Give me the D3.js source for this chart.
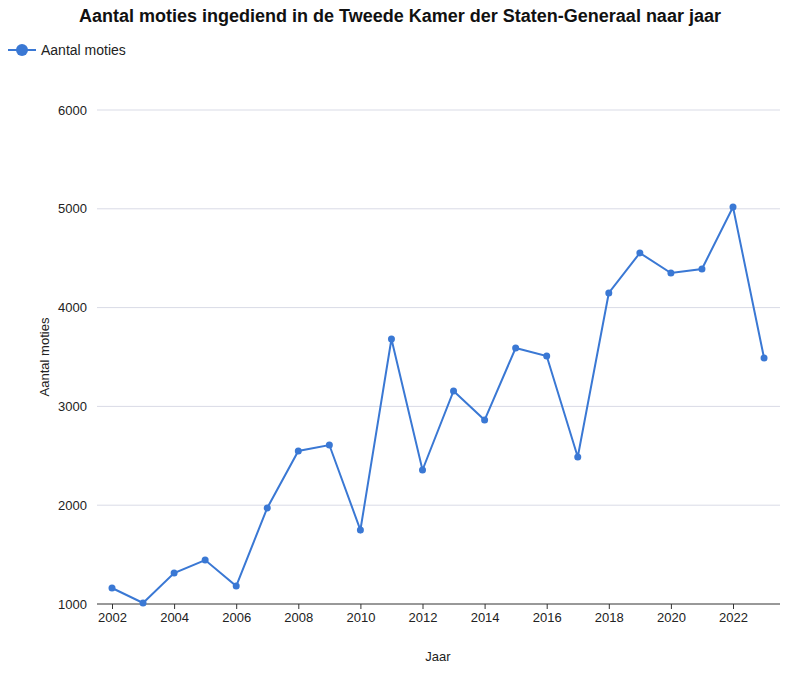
<!DOCTYPE html>
<html><head><meta charset="utf-8">
<script src="https://cdn.jsdelivr.net/npm/d3@7"></script>
<style>body{margin:0;background:#fff;font-family:"Liberation Sans",Arial,sans-serif;}</style>
</head><body><svg id="chart" width="800" height="673"></svg>
<script>
// Chart data
const years = [2002,2003,2004,2005,2006,2007,2008,2009,2010,2011,2012,2013,2014,2015,2016,2017,2018,2019,2020,2021,2022,2023];
const moties = [1162,1010,1314,1445,1182,1972,2549,2609,1749,3682,2356,3156,2862,3591,3510,2488,4148,4553,4350,4391,5018,3490];
const yTicks = [1000,2000,3000,4000,5000,6000];
const xTicks = [2002,2004,2006,2008,2010,2012,2014,2016,2018,2020,2022];

const color = "#3a78d4";
const svg = d3.select("#chart");

const x = d3.scaleLinear().domain([2002, 2022]).range([112, 733]);
const y = d3.scaleLinear().domain([1000, 6000]).range([604, 110]);

// Gridlines
svg.selectAll("line.grid")
  .data(yTicks)
  .enter()
  .append("line")
  .attr("x1", 97).attr("x2", 780)
  .attr("y1", (d) => y(d)).attr("y2", (d) => y(d))
  .attr("stroke", (d) => d === 1000 ? "#333" : "#d9dbe6")
  .attr("stroke-width", 1);

// Axes
const yAxis = svg.append("g").attr("transform", "translate(97,0)")
  .call(d3.axisLeft(y).tickValues(yTicks).tickFormat(d3.format("d")).tickSize(0).tickPadding(10));
yAxis.select(".domain").remove();
yAxis.selectAll("text").attr("font-size", 13).attr("fill", "#222").attr("font-family", "Liberation Sans, Arial");

const xAxis = svg.append("g").attr("transform", "translate(0,604)")
  .call(d3.axisBottom(x).tickValues(xTicks).tickFormat(d3.format("d")).tickSize(5).tickPadding(4));
xAxis.select(".domain").remove();
xAxis.selectAll("line").attr("stroke", "#333");
xAxis.selectAll("text").attr("font-size", 13).attr("fill", "#222").attr("font-family", "Liberation Sans, Arial");

// Line and points
const line = d3.line().x((d, i) => x(years[i])).y((d) => y(d));
svg.append("path")
  .datum(moties)
  .attr("d", line)
  .attr("fill", "none")
  .attr("stroke", color)
  .attr("stroke-width", 2);

svg.selectAll("circle.pt")
  .data(moties)
  .enter()
  .append("circle")
  .attr("cx", (d, i) => x(years[i]))
  .attr("cy", (d) => y(d))
  .attr("r", 3.5)
  .attr("fill", color);

// Titles
svg.append("text").attr("x", 400).attr("y", 22).attr("text-anchor", "middle")
  .attr("font-size", 18).attr("font-weight", "bold").attr("fill", "#111")
  .text("Aantal moties ingediend in de Tweede Kamer der Staten-Generaal naar jaar");

svg.append("text").attr("transform", "translate(49,357) rotate(-90)").attr("text-anchor", "middle")
  .attr("font-size", 13).attr("fill", "#222").text("Aantal moties");

svg.append("text").attr("x", 438).attr("y", 661).attr("text-anchor", "middle")
  .attr("font-size", 13).attr("fill", "#222").text("Jaar");

// Legend
svg.append("line").attr("x1", 8).attr("x2", 36).attr("y1", 50).attr("y2", 50)
  .attr("stroke", color).attr("stroke-width", 2);
svg.append("circle").attr("cx", 22).attr("cy", 50).attr("r", 6).attr("fill", color);
svg.append("text").attr("x", 41).attr("y", 55).attr("font-size", 14).attr("fill", "#222").text("Aantal moties");
</script></body></html>
